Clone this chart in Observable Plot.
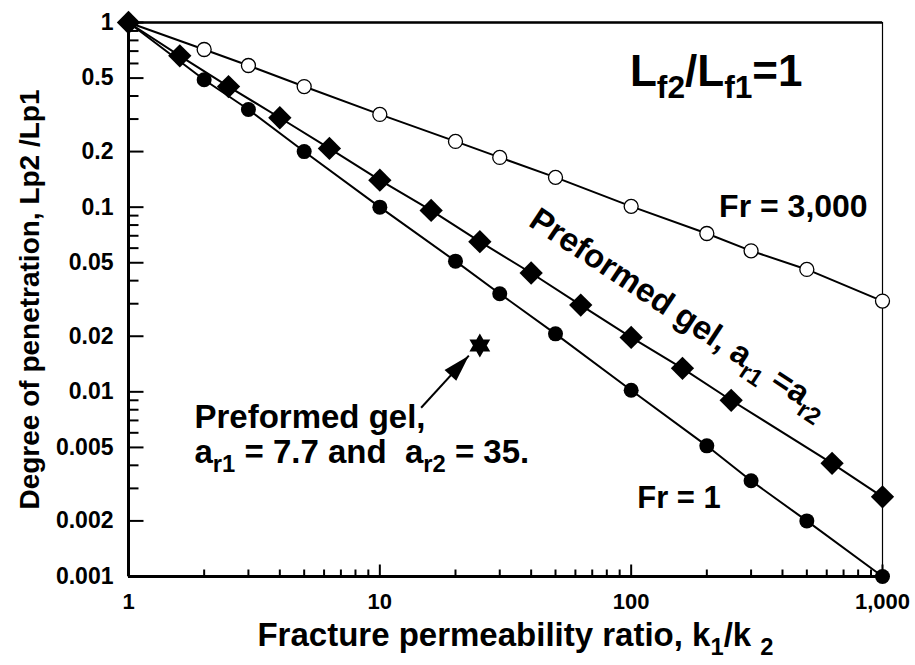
<!DOCTYPE html>
<html><head><meta charset="utf-8">
<script src="https://cdn.jsdelivr.net/npm/d3@7"></script>
<script src="https://cdn.jsdelivr.net/npm/@observablehq/plot@0.6"></script>
<style>
html,body{margin:0;padding:0;background:#fff;}
#chart text{white-space:pre;}
</style></head><body><div id="chart"></div>
<script>
// ---- data ----
const xRatio   = [1, 2, 3, 5, 10, 20, 30, 50, 100, 200, 300, 500, 1000];
const fr3000   = [1, 0.714, 0.585, 0.45, 0.318, 0.227, 0.186, 0.145, 0.101, 0.072, 0.058, 0.046, 0.031];
const fr1      = [1, 0.49, 0.338, 0.2, 0.1, 0.051, 0.034, 0.0206, 0.0102, 0.0051, 0.0033, 0.002, 0.001];
const xGel     = [1, 1.6, 2.5, 4, 6.3, 10, 16, 25, 40, 63, 100, 160, 250, 630, 1000];
const gelEqual = [1, 0.66, 0.45, 0.305, 0.208, 0.14, 0.096, 0.065, 0.044, 0.0295, 0.0197, 0.0134, 0.009, 0.0041, 0.0027];
const starX = [25];
const starY = [0.0178];
const arrowTail = [14.6, 0.0082];
const arrowTip  = [22.6, 0.0157];

const xTicks = [1, 10, 100, 1000];
const xTickLabels = ["1", "10", "100", "1,000"];
const yTicks = [1, 0.5, 0.2, 0.1, 0.05, 0.02, 0.01, 0.005, 0.002, 0.001];
const yTickLabels = ["1", "0.5", "0.2", "0.1", "0.05", "0.02", "0.01", "0.005", "0.002", "0.001"];

const labels = {
  ratio: "L_{f2}/L_{f1}=1",
  fr3000: "Fr = 3,000",
  fr1: "Fr = 1",
  gelEqual: "Preformed gel, a_{r1} =a_{r2}",
  gelStar1: "Preformed gel,",
  gelStar2: "a_{r1} = 7.7 and  a_{r2} = 35.",
  xAxis: "Fracture permeability ratio, k_{1}/k _{2}",
  yAxis: "Degree of penetration, Lp2 /Lp1"
};

// ---- tables ----
const t3000 = xRatio.map((x, i) => ({x, y: fr3000[i]}));
const t1 = xRatio.map((x, i) => ({x, y: fr1[i]}));
const tGel = xGel.map((x, i) => ({x, y: gelEqual[i]}));
const tStar = starX.map((x, i) => ({x, y: starY[i]}));
const tArrow = [{x1: arrowTail[0], y1: arrowTail[1], x2: arrowTip[0], y2: arrowTip[1]}];

const xMinor = [], yMinor = [];
for (const d of [1, 10, 100]) for (let k = 2; k <= 9; k++) xMinor.push(d * k);
for (const d of [0.001, 0.01, 0.1]) for (let k = 2; k <= 9; k++) if (k !== 2 && k !== 5) yMinor.push(+(d * k).toPrecision(3));

const hexagram = {draw(ctx) {
  const r = 12, h = r / 2, w = r * Math.sqrt(3) / 2;
  ctx.moveTo(0, -r); ctx.lineTo(w, h); ctx.lineTo(-w, h); ctx.closePath();
  ctx.moveTo(0, r); ctx.lineTo(-w, -h); ctx.lineTo(w, -h); ctx.closePath();
}};
const arrowHead = {draw(ctx) {
  ctx.moveTo(0, 0); ctx.lineTo(8, 27); ctx.lineTo(-8, 27); ctx.closePath();
}};
const tickUp = len => ({draw(ctx) { ctx.moveTo(0, 0); ctx.lineTo(0, -len); }});
const tickRight = len => ({draw(ctx) { ctx.moveTo(0, 0); ctx.lineTo(len, 0); }});

const font = "'Liberation Sans', Arial, Helvetica, sans-serif";

const chart = Plot.plot({
  width: 915, height: 665,
  marginLeft: 128, marginRight: 33, marginTop: 22, marginBottom: 89,
  style: {fontFamily: font, fontWeight: "bold", color: "black", background: "white"},
  x: {type: "log", domain: [1, 1000]},
  y: {type: "log", domain: [0.001, 1]},
  marks: [
    Plot.frame({stroke: "black", strokeWidth: 1.2}),
    Plot.ruleY([1], {stroke: "black", strokeWidth: 2.5}),
    // inward ticks
    Plot.dot(xMinor, {x: d => d, y: 0.001, symbol: tickUp(7), stroke: "black", fill: "none", strokeWidth: 2}),
    Plot.dot(xTicks, {x: d => d, y: 0.001, symbol: tickUp(12), stroke: "black", fill: "none", strokeWidth: 2}),
    Plot.dot(yMinor, {x: 1, y: d => d, symbol: tickRight(10), stroke: "black", fill: "none", strokeWidth: 2}),
    Plot.dot(yTicks, {x: 1, y: d => d, symbol: tickRight(15), stroke: "black", fill: "none", strokeWidth: 2}),
    Plot.ruleY([0.001], {stroke: "black", strokeWidth: 3}),
    Plot.ruleX([1], {stroke: "black", strokeWidth: 3}),
    Plot.axisX(xTicks, {tickSize: 0, tickPadding: 17, tickFormat: d => xTickLabels[xTicks.indexOf(d)], label: null, fontSize: 22, fontWeight: "bold"}),
    Plot.axisY(yTicks, {tickSize: 0, tickPadding: 15, tickFormat: d => yTickLabels[yTicks.indexOf(d)], label: null, fontSize: 23, fontWeight: "bold"}),
    Plot.line(t3000, {x: "x", y: "y", stroke: "black", strokeWidth: 2}),
    Plot.line(tGel, {x: "x", y: "y", stroke: "black", strokeWidth: 2}),
    Plot.line(t1, {x: "x", y: "y", stroke: "black", strokeWidth: 2}),
    Plot.dot(t3000, {x: "x", y: "y", r: 7, stroke: "black", fill: "white", strokeWidth: 1.3}),
    Plot.dot(t1, {x: "x", y: "y", r: 7.5, fill: "black"}),
    Plot.dot(tGel, {x: "x", y: "y", r: 10.5, symbol: "diamond2", fill: "black"}),
    Plot.dot(tStar, {x: "x", y: "y", symbol: hexagram, fill: "black"}),
    Plot.link(tArrow, {x1: "x1", y1: "y1", x2: "x2", y2: "y2", stroke: "black", strokeWidth: 2}),
    Plot.dot(tArrow, {x: "x2", y: "y2", symbol: arrowHead, fill: "black", rotate: 43}),
    Plot.text([labels.ratio], {x: 218, y: 0.54, fontSize: 44, fontWeight: "bold"}),
    Plot.text([labels.fr3000], {x: 442, y: 0.1, fontSize: 32, fontWeight: "bold"}),
    Plot.text([labels.fr1], {x: 155, y: 0.00265, fontSize: 31, fontWeight: "bold"}),
    Plot.text([labels.gelEqual], {x: 155, y: 0.0268, rotate: 33.5, fontSize: 33, fontWeight: "bold"}),
    Plot.text([labels.gelStar1], {x: 1.83, y: 0.0073, textAnchor: "start", fontSize: 33, fontWeight: "bold"}),
    Plot.text([labels.gelStar2], {x: 1.83, y: 0.0047, textAnchor: "start", fontSize: 33, fontWeight: "bold"}),
    Plot.text([labels.xAxis], {frameAnchor: "bottom", lineAnchor: "middle", textAnchor: "middle", dy: 59, dx: 10, fontSize: 33, fontWeight: "bold"}),
    Plot.text([labels.yAxis], {frameAnchor: "left", lineAnchor: "middle", textAnchor: "middle", rotate: -90, dx: -98, fontSize: 28, fontWeight: "bold"})
  ]
});
document.getElementById("chart").appendChild(chart);

// subscripts: turn "_{...}" into lowered, smaller tspans
function richify(root) {
  const ns = "http://www.w3.org/2000/svg";
  root.querySelectorAll("text").forEach(t => {
    const s = t.textContent;
    if (!s.includes("_{")) return;
    const fs = parseFloat(getComputedStyle(t).fontSize);
    const sub = fs * 0.72, shift = fs * 0.28;
    const parts = s.split(/_\{([^}]*)\}/);
    while (t.firstChild) t.removeChild(t.firstChild);
    let shifted = 0;
    parts.forEach((p, i) => {
      if (!p) return;
      const ts = document.createElementNS(ns, "tspan");
      ts.textContent = p;
      if (i % 2) { ts.setAttribute("font-size", sub); ts.setAttribute("dy", shift - shifted); shifted = shift; }
      else { ts.setAttribute("dy", -shifted); shifted = 0; }
      t.appendChild(ts);
    });
  });
}
richify(chart);
</script>
</body></html>
